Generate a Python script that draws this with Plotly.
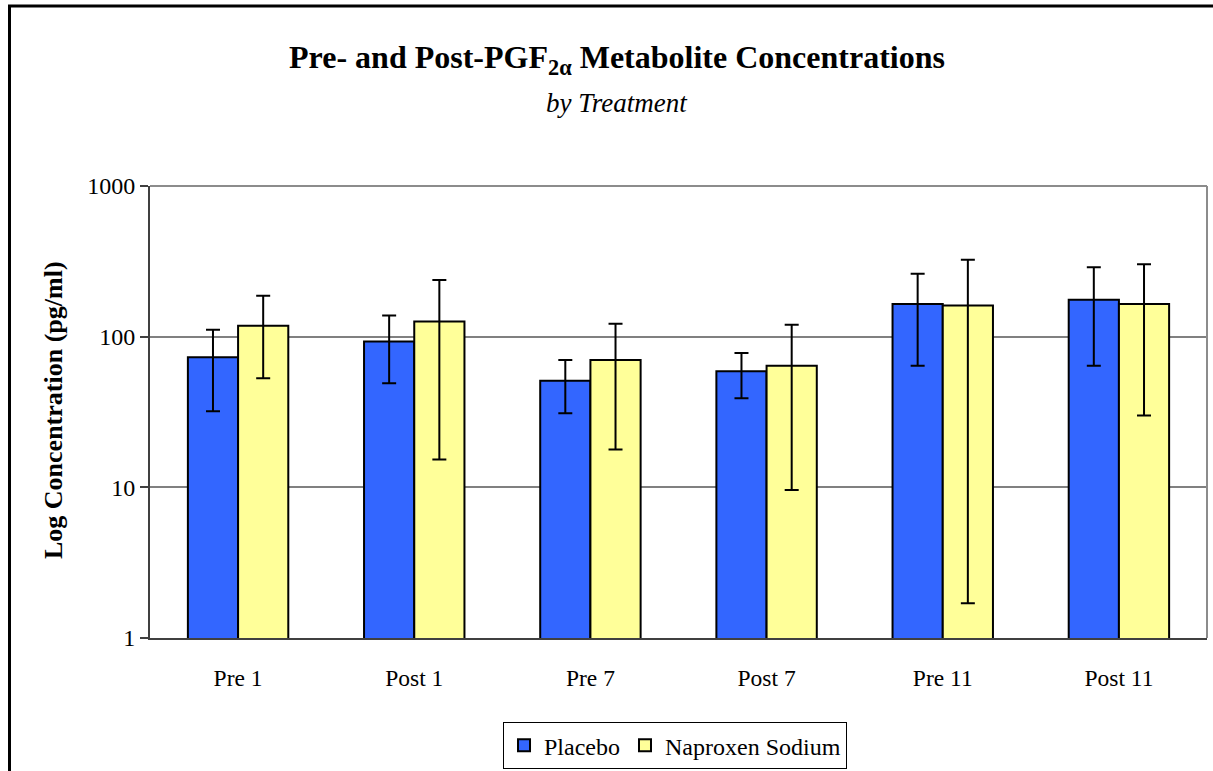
import plotly.graph_objects as go

categories = ["Pre 1", "Post 1", "Pre 7", "Post 7", "Pre 11", "Post 11"]
placebo = [73, 93, 51, 59, 165, 176]
placebo_hi = [111, 138, 70, 78, 262, 289]
placebo_lo = [32, 49, 31, 39, 64, 64]
naproxen = [118, 126, 70, 64, 161, 165]
naproxen_hi = [187, 238, 122, 120, 324, 303]
naproxen_lo = [53, 15.3, 17.8, 9.6, 1.7, 30]

FONT = "'Liberation Serif', 'Times New Roman', serif"

def err(vals, hi, lo):
    return dict(type="data", symmetric=False,
                array=[h - v for v, h in zip(vals, hi)],
                arrayminus=[v - l for v, l in zip(vals, lo)],
                color="black", thickness=2, width=7)

fig = go.Figure()
fig.add_trace(go.Bar(name="Placebo", x=categories, y=placebo,
                     marker=dict(color="#3366FF", line=dict(color="black", width=2)),
                     error_y=err(placebo, placebo_hi, placebo_lo)))
fig.add_trace(go.Bar(name="Naproxen Sodium", x=categories, y=naproxen,
                     marker=dict(color="#FFFF99", line=dict(color="black", width=2)),
                     error_y=err(naproxen, naproxen_hi, naproxen_lo)))

fig.update_layout(
    width=1213, height=771,
    margin=dict(l=150, r=6, t=186, b=133, autoexpand=False),
    paper_bgcolor="white", plot_bgcolor="white",
    font=dict(family=FONT, color="black", size=23),
    barmode="group", bargap=0.43, bargroupgap=0,
    title=dict(text="<b>Pre- and Post-PGF<sub>2α</sub> Metabolite Concentrations</b>",
               xref="container", yref="container", x=617/1213, xanchor="center",
               y=1 - 57/771, yanchor="middle", font=dict(size=32, family=FONT)),
    legend=dict(orientation="h", x=0.4967, xanchor="center", y=-0.186, yanchor="top",
                bordercolor="black", borderwidth=1, font=dict(size=24, family=FONT),
                itemwidth=30, tracegroupgap=0),
    showlegend=True,
)
fig.update_xaxes(showline=True, linecolor="#404040", linewidth=2, mirror=False,
                 ticks="", ticklabelstandoff=18, tickfont=dict(size=23.5, family=FONT),
                 automargin=False)
fig.update_yaxes(type="log", range=[0, 3], tickvals=[1, 10, 100, 1000],
                 ticktext=["1", "10", "100", "1000"],
                 showgrid=True, gridcolor="#808080", gridwidth=1.5,
                 showline=True, linecolor="#404040", linewidth=2,
                 ticks="outside", ticklen=8, tickcolor="#404040", tickwidth=1.5,
                 tickfont=dict(size=24, family=FONT), zeroline=False, automargin=False)

# plot area gray border top/right
fig.add_shape(type="line", xref="paper", yref="paper", x0=0, x1=1, y0=1, y1=1,
              line=dict(color="#8c8c8c", width=2))
fig.add_shape(type="line", xref="paper", yref="paper", x0=1, x1=1, y0=0, y1=1,
              line=dict(color="#8c8c8c", width=2))
# outer chart frame
fig.add_shape(type="rect", xref="paper", yref="paper",
              x0=(9.5 - 150) / 1057, x1=1.2, y0=-0.6, y1=(638 - 6) / 452,
              line=dict(color="black", width=3))

fig.add_annotation(text="<i>by Treatment</i>", xref="paper", yref="paper",
                   x=(617 - 150) / 1057, y=(638 - 103) / 452, showarrow=False,
                   xanchor="center", yanchor="middle", font=dict(size=27, family=FONT))
fig.add_annotation(text="<b>Log Concentration (pg/ml)</b>", xref="paper", yref="paper",
                   x=(53 - 150) / 1057, y=(638 - 410) / 452, showarrow=False,
                   textangle=-90, xanchor="center", yanchor="middle",
                   font=dict(size=26, family=FONT))

fig.write_html("out.html")
